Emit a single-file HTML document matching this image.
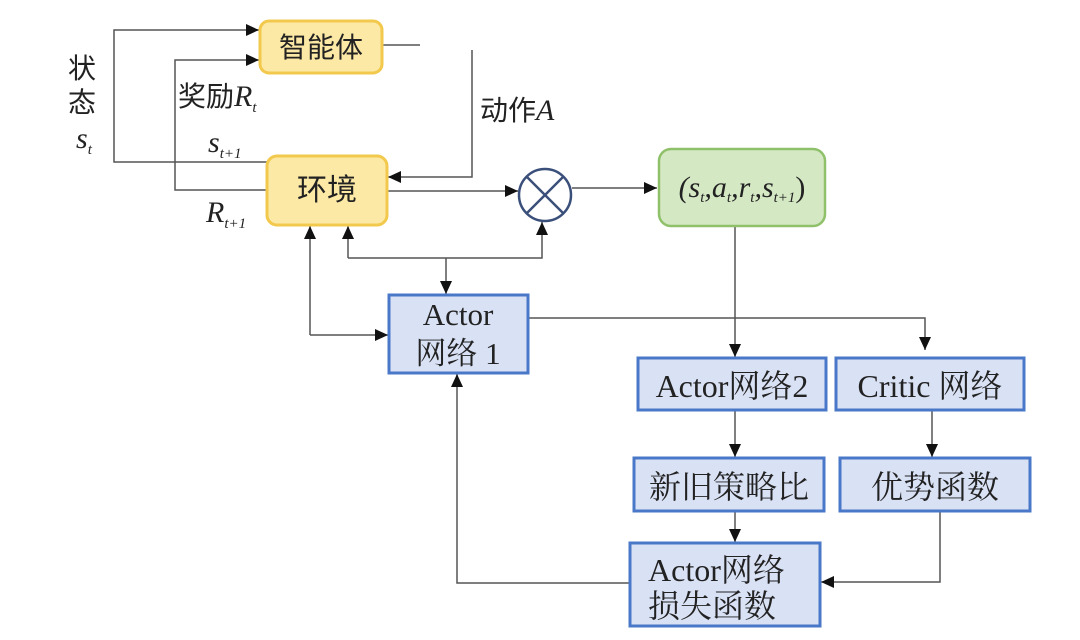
<!DOCTYPE html>
<html><head><meta charset="utf-8"><style>
html,body{margin:0;padding:0;background:#fff;}
svg{display:block;}
.t{font-family:"Liberation Serif","Noto Serif CJK SC",serif;fill:#222;}
.k{font-family:"Liberation Sans","Noto Sans CJK SC",sans-serif;fill:#222;}
.i{font-family:"Liberation Serif",serif;font-style:italic;fill:#222;}
</style></head><body>
<svg width="1080" height="640" viewBox="0 0 1080 640" xmlns="http://www.w3.org/2000/svg">
<defs>
<marker id="a" markerWidth="14" markerHeight="14" refX="13" refY="6" orient="auto" markerUnits="userSpaceOnUse">
<path d="M0,0 L13,6 L0,12 z" fill="#111"/></marker>
</defs>
<g stroke="#555" stroke-width="1.5" fill="none">
<polyline points="267,162 114,162 114,30 259,30" marker-end="url(#a)"/>
<polyline points="267,190 175,190 175,60 259,60" marker-end="url(#a)"/>
<line x1="382" y1="45" x2="420" y2="45"/>
<polyline points="472,50 472,177 388,177" marker-end="url(#a)"/>
<line x1="387" y1="191" x2="518" y2="191" marker-end="url(#a)"/>
<line x1="572" y1="188" x2="657" y2="188" marker-end="url(#a)"/>
<line x1="310" y1="335" x2="310" y2="226" marker-end="url(#a)"/>
<line x1="310" y1="335" x2="388" y2="335" marker-end="url(#a)"/>
<polyline points="348,258 348,226" marker-end="url(#a)"/>
<polyline points="348,258 542,258 542,222" marker-end="url(#a)"/>
<line x1="446" y1="258" x2="446" y2="294" marker-end="url(#a)"/>
<line x1="735" y1="226" x2="735" y2="357" marker-end="url(#a)"/>
<polyline points="528,318 925,318 925,350" marker-end="url(#a)"/>
<line x1="735" y1="410" x2="735" y2="457" marker-end="url(#a)"/>
<line x1="932" y1="410" x2="932" y2="457" marker-end="url(#a)"/>
<line x1="735" y1="511" x2="735" y2="542" marker-end="url(#a)"/>
<polyline points="940,511 940,582 821,582" marker-end="url(#a)"/>
<polyline points="630,583 457,583 457,374" marker-end="url(#a)"/>
</g>
<rect x="260" y="21" width="122" height="52" rx="9" fill="#fde9a6" stroke="#f2c94c" stroke-width="3"/>
<text x="321" y="57" text-anchor="middle" class="k" font-size="28">智能体</text>
<rect x="267" y="156" width="120" height="69" rx="10" fill="#fde9a6" stroke="#f2c94c" stroke-width="3"/>
<text x="327" y="200" text-anchor="middle" class="k" font-size="30">环境</text>
<circle cx="545" cy="195" r="26" fill="#fff" stroke="#3a4f7a" stroke-width="2.5"/>
<line x1="527" y1="177" x2="563" y2="213" stroke="#3a4f7a" stroke-width="2.5"/>
<line x1="563" y1="177" x2="527" y2="213" stroke="#3a4f7a" stroke-width="2.5"/>
<rect x="659" y="149" width="166" height="77" rx="12" fill="#d5e8c4" stroke="#8fc06a" stroke-width="2.5"/>
<text x="742" y="197" text-anchor="middle" class="i" font-size="30">(s<tspan font-size="15" dy="5">t</tspan><tspan dy="-5">,a</tspan><tspan font-size="15" dy="5">t</tspan><tspan dy="-5">,r</tspan><tspan font-size="15" dy="5">t</tspan><tspan dy="-5">,s</tspan><tspan font-size="15" dy="5">t+1</tspan><tspan dy="-5" font-style="normal">)</tspan></text>
<g fill="#d9e1f5" stroke="#4a78c9" stroke-width="3">
<rect x="389" y="295" width="139" height="78"/>
<rect x="638" y="358" width="188" height="52"/>
<rect x="836" y="358" width="188" height="52"/>
<rect x="634" y="458" width="190" height="53"/>
<rect x="840" y="458" width="190" height="53"/>
<rect x="630" y="543" width="190" height="83"/>
</g>
<text x="458" y="325" text-anchor="middle" class="t" font-size="31">Actor</text>
<text x="458" y="364" text-anchor="middle" class="t" font-size="31">网络 1</text>
<text x="732" y="397" text-anchor="middle" class="t" font-size="32">Actor网络2</text>
<text x="930" y="397" text-anchor="middle" class="t" font-size="32">Critic 网络</text>
<text x="729" y="498" text-anchor="middle" class="t" font-size="32">新旧策略比</text>
<text x="935" y="498" text-anchor="middle" class="t" font-size="32">优势函数</text>
<text x="648" y="581" class="t" font-size="32">Actor网络</text>
<text x="648" y="617" class="t" font-size="32">损失函数</text>
<text x="68" y="78" class="k" font-size="28">状</text>
<text x="68" y="112" class="k" font-size="28">态</text>
<text x="76" y="148" class="i" font-size="30">s<tspan font-size="15" dy="6">t</tspan></text>
<text x="178" y="106" class="k" font-size="28">奖励<tspan class="i" font-style="italic" font-size="30">R</tspan><tspan class="i" font-style="italic" font-size="15" dy="6">t</tspan></text>
<text x="208" y="152" class="i" font-size="30">s<tspan font-size="15" dy="6">t+1</tspan></text>
<text x="206" y="222" class="i" font-size="30">R<tspan font-size="15" dy="6">t+1</tspan></text>
<text x="480" y="120" class="k" font-size="28">动作<tspan class="i" font-style="italic" font-size="30">A</tspan></text>
</svg>
</body></html>
